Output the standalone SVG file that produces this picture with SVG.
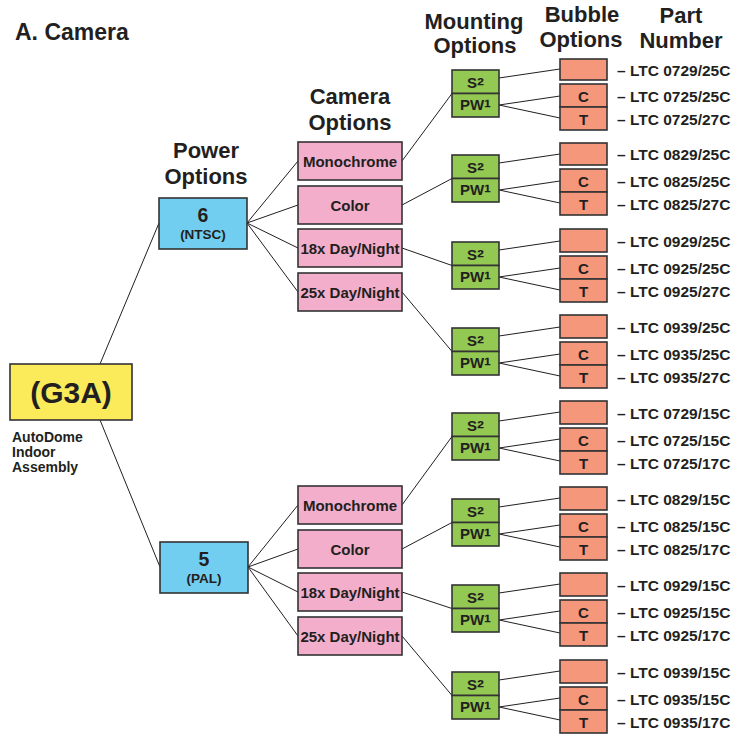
<svg xmlns="http://www.w3.org/2000/svg" width="738" height="735" viewBox="0 0 738 735">
<style>
text{font-family:"Liberation Sans",Arial,sans-serif;font-weight:bold;fill:#231f20}
.hdr{font-size:22px;text-anchor:middle}
.box{stroke:#333;stroke-width:1.6}
.yel{fill:#FBEB5B}
.blu{fill:#72CEF0}
.pnk{fill:#F2AECB}
.grn{fill:#93C853}
.sal{fill:#F5977A}
.cam{font-size:15px;text-anchor:middle}
.mt{font-size:15px;text-anchor:middle}
.sup{font-size:21px}
.pn{font-size:15.5px}
.ct{font-size:15px;text-anchor:middle}
#connectors line{stroke:#231f20;stroke-width:1}
</style>
<rect width="738" height="735" fill="#fff"/>
<text x="15" y="40" font-size="23">A. Camera</text>
<g id="headers">
<text class="hdr" x="206" y="158">Power</text><text class="hdr" x="206" y="184">Options</text>
<text class="hdr" x="350" y="104">Camera</text><text class="hdr" x="350" y="130">Options</text>
<text class="hdr" x="474" y="29">Mounting</text><text class="hdr" x="475" y="53">Options</text>
<text class="hdr" x="582" y="22">Bubble</text><text class="hdr" x="581" y="47">Options</text>
<text class="hdr" x="681" y="23">Part</text><text class="hdr" x="681" y="48">Number</text>
</g>
<g id="connectors">
<line x1="100" y1="364" x2="159" y2="223"/><line x1="100" y1="420" x2="160" y2="567"/>
<line x1="247" y1="223" x2="298" y2="161"/><line x1="247" y1="223" x2="298" y2="205"/><line x1="247" y1="223" x2="298" y2="248"/><line x1="247" y1="223" x2="298" y2="292"/>
<line x1="248" y1="567" x2="298" y2="505"/><line x1="248" y1="567" x2="298" y2="549"/><line x1="248" y1="567" x2="298" y2="592"/><line x1="248" y1="567" x2="298" y2="636"/>
<line x1="402" y1="161" x2="452" y2="93.5"/><line x1="402" y1="205" x2="452" y2="178.5"/><line x1="402" y1="248" x2="452" y2="265.5"/><line x1="402" y1="292" x2="452" y2="351.5"/>
<line x1="402" y1="505" x2="452" y2="436.5"/><line x1="402" y1="549" x2="452" y2="522.5"/><line x1="402" y1="592" x2="452" y2="608.5"/><line x1="402" y1="636" x2="452" y2="695.5"/>
<line x1="499" y1="78" x2="560" y2="69"/><line x1="499" y1="105" x2="560" y2="96"/><line x1="499" y1="105" x2="560" y2="118"/>
<line x1="499" y1="163" x2="560" y2="154"/><line x1="499" y1="190" x2="560" y2="181"/><line x1="499" y1="190" x2="560" y2="203"/>
<line x1="499" y1="250" x2="560" y2="241"/><line x1="499" y1="277" x2="560" y2="268"/><line x1="499" y1="277" x2="560" y2="290"/>
<line x1="499" y1="336" x2="560" y2="327"/><line x1="499" y1="363" x2="560" y2="354"/><line x1="499" y1="363" x2="560" y2="376"/>
<line x1="499" y1="421" x2="560" y2="412"/><line x1="499" y1="448" x2="560" y2="439"/><line x1="499" y1="448" x2="560" y2="461"/>
<line x1="499" y1="507" x2="560" y2="498"/><line x1="499" y1="534" x2="560" y2="525"/><line x1="499" y1="534" x2="560" y2="547"/>
<line x1="499" y1="593" x2="560" y2="584"/><line x1="499" y1="620" x2="560" y2="611"/><line x1="499" y1="620" x2="560" y2="633"/>
<line x1="499" y1="680" x2="560" y2="671"/><line x1="499" y1="707" x2="560" y2="698"/><line x1="499" y1="707" x2="560" y2="720"/>
</g>
<g id="g3a">
<rect class="box yel" x="10" y="364" width="122" height="56"/>
<text x="71" y="403" font-size="30" text-anchor="middle">(G3A)</text>
<text x="12" y="442" font-size="14">AutoDome</text>
<text x="12" y="457" font-size="14">Indoor</text>
<text x="12" y="472" font-size="14">Assembly</text>
</g>
<g id="power6">
<rect class="box blu" x="159" y="198" width="88" height="51"/>
<text x="203" y="221.5" font-size="19.5" text-anchor="middle">6</text>
<text x="203" y="239" font-size="13.5" text-anchor="middle">(NTSC)</text>
</g>
<g id="power5">
<rect class="box blu" x="160" y="542" width="88" height="51"/>
<text x="204" y="565.5" font-size="19.5" text-anchor="middle">5</text>
<text x="204" y="583" font-size="13.5" text-anchor="middle">(PAL)</text>
</g>
<g id="cam6-mono"><rect class="box pnk" x="298" y="142" width="104" height="38"/><text class="cam" x="350" y="166.5">Monochrome</text></g>
<g id="cam6-color"><rect class="box pnk" x="298" y="186" width="104" height="38"/><text class="cam" x="350" y="210.5">Color</text></g>
<g id="cam6-18x"><rect class="box pnk" x="298" y="229" width="104" height="38"/><text class="cam" x="350" y="253.5">18x Day/Night</text></g>
<g id="cam6-25x"><rect class="box pnk" x="298" y="273" width="104" height="38"/><text class="cam" x="350" y="297.5">25x Day/Night</text></g>
<g id="cam5-mono"><rect class="box pnk" x="298" y="486" width="104" height="38"/><text class="cam" x="350" y="510.5">Monochrome</text></g>
<g id="cam5-color"><rect class="box pnk" x="298" y="530" width="104" height="38"/><text class="cam" x="350" y="554.5">Color</text></g>
<g id="cam5-18x"><rect class="box pnk" x="298" y="573" width="104" height="38"/><text class="cam" x="350" y="597.5">18x Day/Night</text></g>
<g id="cam5-25x"><rect class="box pnk" x="298" y="617" width="104" height="38"/><text class="cam" x="350" y="641.5">25x Day/Night</text></g>

<g id="mount1"><rect class="box grn" x="452" y="70" width="47" height="23.5"/><rect class="box grn" x="452" y="93.5" width="47" height="23.5"/><text class="mt" x="475.5" y="88">S<tspan class="sup" dy="4">²</tspan></text><text class="mt" x="475.5" y="110">PW<tspan class="sup" dy="4">¹</tspan></text></g>
<g id="mount2"><rect class="box grn" x="452" y="155" width="47" height="23.5"/><rect class="box grn" x="452" y="178.5" width="47" height="23.5"/><text class="mt" x="475.5" y="173">S<tspan class="sup" dy="4">²</tspan></text><text class="mt" x="475.5" y="195">PW<tspan class="sup" dy="4">¹</tspan></text></g>
<g id="mount3"><rect class="box grn" x="452" y="242" width="47" height="23.5"/><rect class="box grn" x="452" y="265.5" width="47" height="23.5"/><text class="mt" x="475.5" y="260">S<tspan class="sup" dy="4">²</tspan></text><text class="mt" x="475.5" y="282">PW<tspan class="sup" dy="4">¹</tspan></text></g>
<g id="mount4"><rect class="box grn" x="452" y="328" width="47" height="23.5"/><rect class="box grn" x="452" y="351.5" width="47" height="23.5"/><text class="mt" x="475.5" y="346">S<tspan class="sup" dy="4">²</tspan></text><text class="mt" x="475.5" y="368">PW<tspan class="sup" dy="4">¹</tspan></text></g>
<g id="mount5"><rect class="box grn" x="452" y="413" width="47" height="23.5"/><rect class="box grn" x="452" y="436.5" width="47" height="23.5"/><text class="mt" x="475.5" y="431">S<tspan class="sup" dy="4">²</tspan></text><text class="mt" x="475.5" y="453">PW<tspan class="sup" dy="4">¹</tspan></text></g>
<g id="mount6"><rect class="box grn" x="452" y="499" width="47" height="23.5"/><rect class="box grn" x="452" y="522.5" width="47" height="23.5"/><text class="mt" x="475.5" y="517">S<tspan class="sup" dy="4">²</tspan></text><text class="mt" x="475.5" y="539">PW<tspan class="sup" dy="4">¹</tspan></text></g>
<g id="mount7"><rect class="box grn" x="452" y="585" width="47" height="23.5"/><rect class="box grn" x="452" y="608.5" width="47" height="23.5"/><text class="mt" x="475.5" y="603">S<tspan class="sup" dy="4">²</tspan></text><text class="mt" x="475.5" y="625">PW<tspan class="sup" dy="4">¹</tspan></text></g>
<g id="mount8"><rect class="box grn" x="452" y="672" width="47" height="23.5"/><rect class="box grn" x="452" y="695.5" width="47" height="23.5"/><text class="mt" x="475.5" y="690">S<tspan class="sup" dy="4">²</tspan></text><text class="mt" x="475.5" y="712">PW<tspan class="sup" dy="4">¹</tspan></text></g>

<g id="bubble1"><rect class="box sal" x="560" y="59" width="47" height="21"/><rect class="box sal" x="560" y="84" width="47" height="23"/><rect class="box sal" x="560" y="107" width="47" height="23"/><text class="ct" x="583.5" y="102">C</text><text class="ct" x="583.5" y="125">T</text>
<text class="pn" x="617" y="76">– LTC 0729/25C</text><text class="pn" x="617" y="102">– LTC 0725/25C</text><text class="pn" x="617" y="125">– LTC 0725/27C</text></g>
<g id="bubble2"><rect class="box sal" x="560" y="143" width="47" height="22"/><rect class="box sal" x="560" y="169" width="47" height="23"/><rect class="box sal" x="560" y="192" width="47" height="23"/><text class="ct" x="583.5" y="187">C</text><text class="ct" x="583.5" y="210">T</text>
<text class="pn" x="617" y="160">– LTC 0829/25C</text><text class="pn" x="617" y="187">– LTC 0825/25C</text><text class="pn" x="617" y="210">– LTC 0825/27C</text></g>
<g id="bubble3"><rect class="box sal" x="560" y="229" width="47" height="23"/><rect class="box sal" x="560" y="256" width="47" height="23"/><rect class="box sal" x="560" y="279" width="47" height="23"/><text class="ct" x="583.5" y="274">C</text><text class="ct" x="583.5" y="297">T</text>
<text class="pn" x="617" y="247">– LTC 0929/25C</text><text class="pn" x="617" y="274">– LTC 0925/25C</text><text class="pn" x="617" y="297">– LTC 0925/27C</text></g>
<g id="bubble4"><rect class="box sal" x="560" y="315" width="47" height="23"/><rect class="box sal" x="560" y="342" width="47" height="23"/><rect class="box sal" x="560" y="365" width="47" height="23"/><text class="ct" x="583.5" y="360">C</text><text class="ct" x="583.5" y="383">T</text>
<text class="pn" x="617" y="333">– LTC 0939/25C</text><text class="pn" x="617" y="360">– LTC 0935/25C</text><text class="pn" x="617" y="383">– LTC 0935/27C</text></g>
<g id="bubble5"><rect class="box sal" x="560" y="401" width="47" height="23"/><rect class="box sal" x="560" y="428" width="47" height="23"/><rect class="box sal" x="560" y="451" width="47" height="23"/><text class="ct" x="583.5" y="446">C</text><text class="ct" x="583.5" y="469">T</text>
<text class="pn" x="617" y="419">– LTC 0729/15C</text><text class="pn" x="617" y="446">– LTC 0725/15C</text><text class="pn" x="617" y="469">– LTC 0725/17C</text></g>
<g id="bubble6"><rect class="box sal" x="560" y="487" width="47" height="23"/><rect class="box sal" x="560" y="514" width="47" height="23"/><rect class="box sal" x="560" y="537" width="47" height="23"/><text class="ct" x="583.5" y="532">C</text><text class="ct" x="583.5" y="555">T</text>
<text class="pn" x="617" y="505">– LTC 0829/15C</text><text class="pn" x="617" y="532">– LTC 0825/15C</text><text class="pn" x="617" y="555">– LTC 0825/17C</text></g>
<g id="bubble7"><rect class="box sal" x="560" y="573" width="47" height="23"/><rect class="box sal" x="560" y="600" width="47" height="23"/><rect class="box sal" x="560" y="623" width="47" height="23"/><text class="ct" x="583.5" y="618">C</text><text class="ct" x="583.5" y="641">T</text>
<text class="pn" x="617" y="591">– LTC 0929/15C</text><text class="pn" x="617" y="618">– LTC 0925/15C</text><text class="pn" x="617" y="641">– LTC 0925/17C</text></g>
<g id="bubble8"><rect class="box sal" x="560" y="660" width="47" height="23"/><rect class="box sal" x="560" y="687" width="47" height="23"/><rect class="box sal" x="560" y="710" width="47" height="23"/><text class="ct" x="583.5" y="705">C</text><text class="ct" x="583.5" y="728">T</text>
<text class="pn" x="617" y="678">– LTC 0939/15C</text><text class="pn" x="617" y="705">– LTC 0935/15C</text><text class="pn" x="617" y="728">– LTC 0935/17C</text></g>
</svg>
